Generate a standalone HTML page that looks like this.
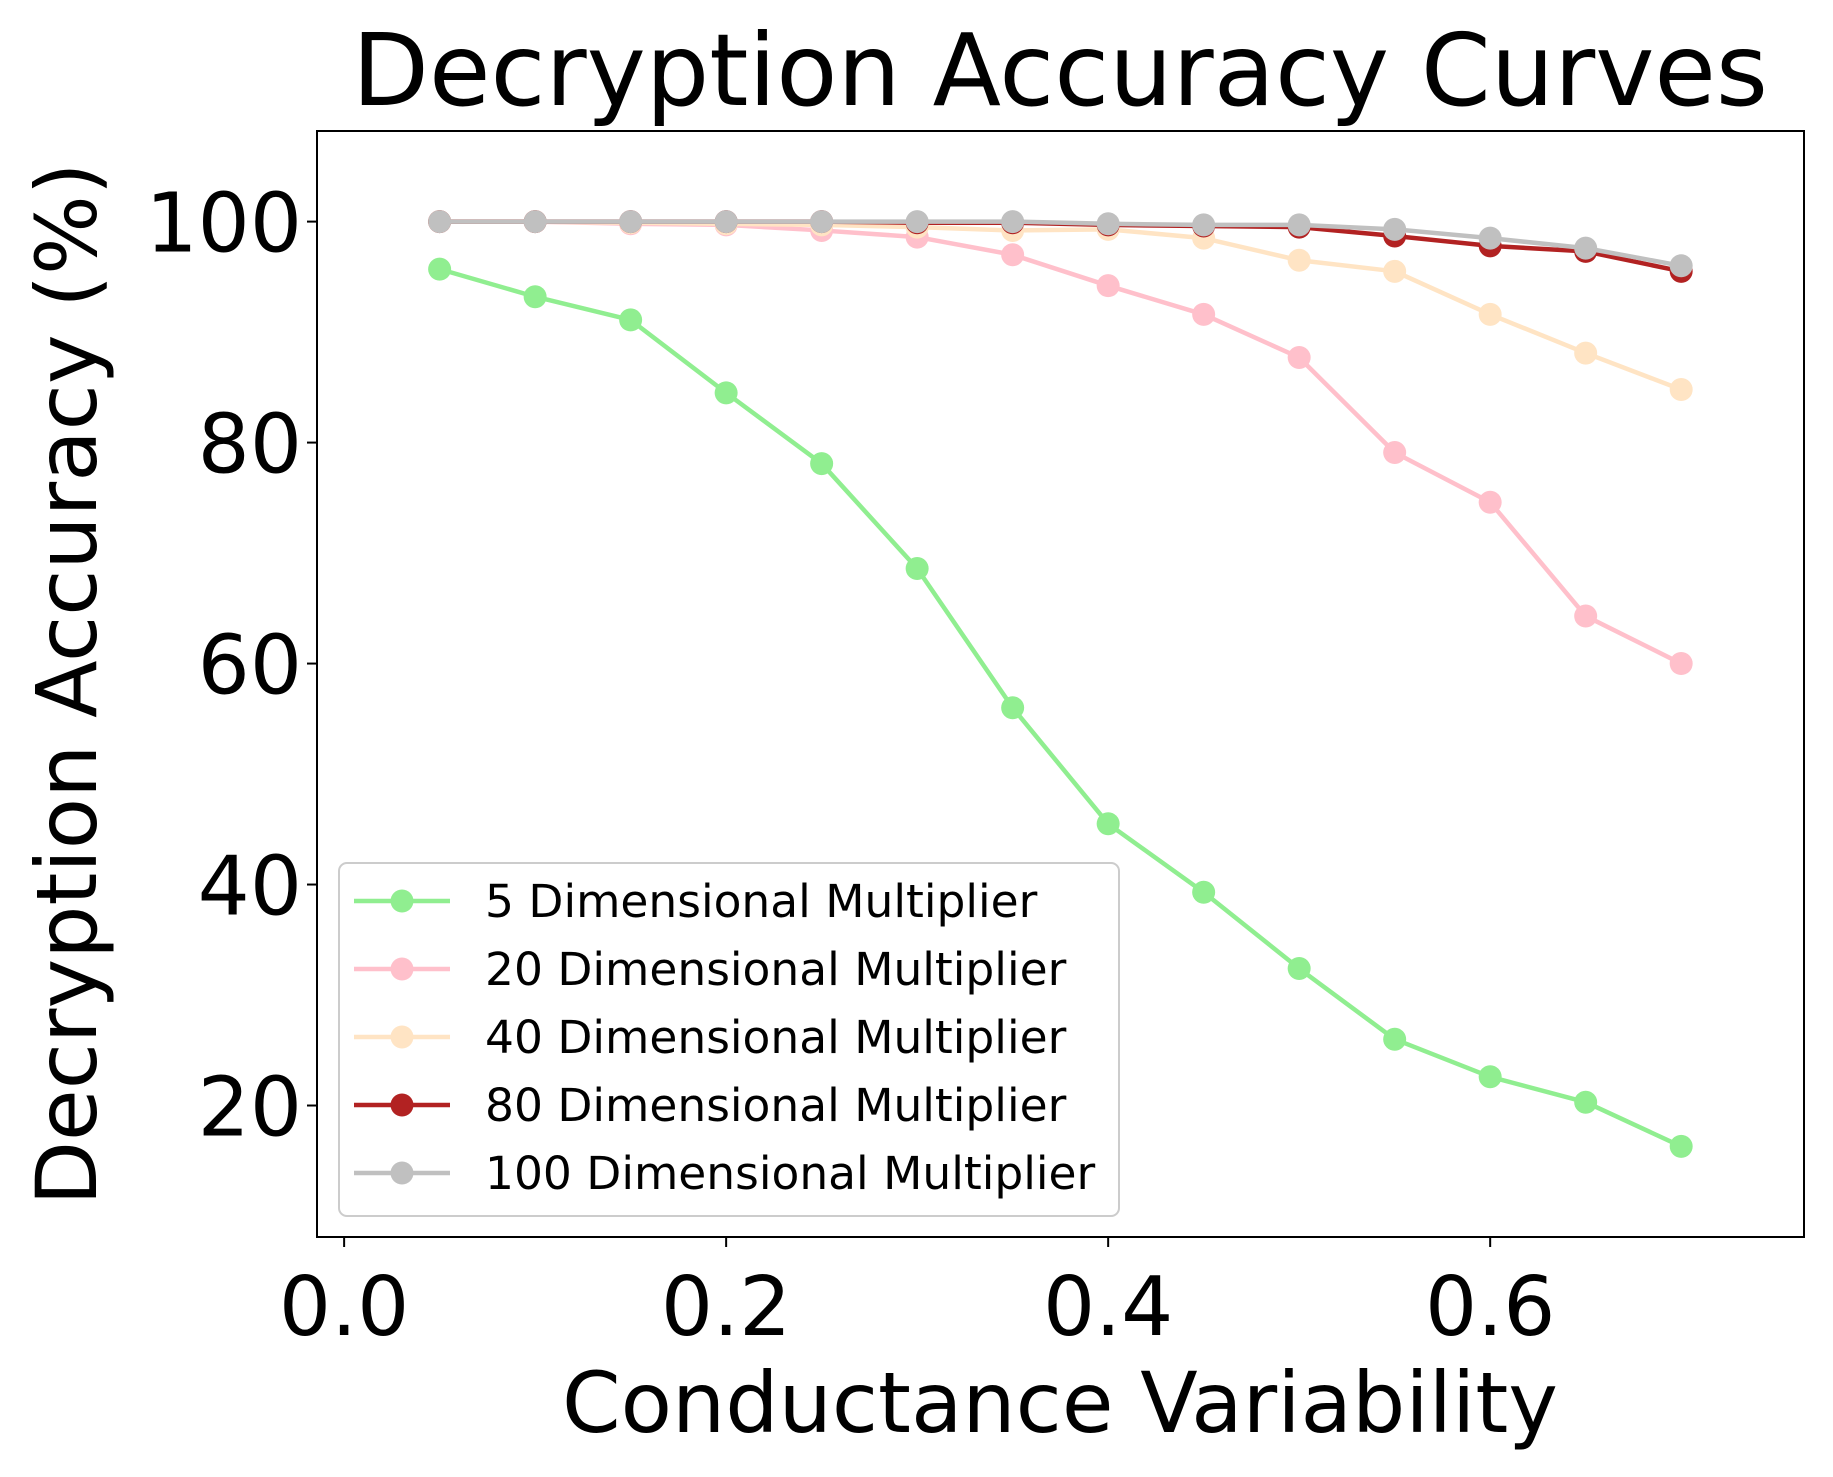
<!DOCTYPE html>
<html><head><meta charset="utf-8"><style>body{margin:0;background:#fff}svg{display:block}text{font-family:"DejaVu Sans","Liberation Sans",sans-serif;fill:#000}</style></head>
<body>
<svg id="chart" width="1833" height="1477" viewBox="0 0 1833 1477" xmlns="http://www.w3.org/2000/svg">
<rect width="1833" height="1477" fill="#fff"/>
<text x="1060" y="105" font-size="100" text-anchor="middle">Decryption Accuracy Curves</text>
<g id="plot"></g>
<text x="1060" y="1432" font-size="84" text-anchor="middle">Conductance Variability</text>
<text transform="translate(96,684) rotate(-90)" font-size="84" text-anchor="middle">Decryption Accuracy (%)</text>
</svg>
<script>
const xValues=[0.05,0.1,0.15,0.2,0.25,0.3,0.35,0.4,0.45,0.5,0.55,0.6,0.65,0.7];
const series5=[95.7,93.2,91.1,84.5,78.1,68.6,56.0,45.5,39.3,32.4,26.0,22.6,20.3,16.3];
const series20=[100,100,99.8,99.7,99.2,98.6,97.0,94.2,91.6,87.7,79.1,74.6,64.3,60.0];
const series40=[100,100,99.9,99.8,99.7,99.5,99.2,99.3,98.5,96.5,95.5,91.6,88.1,84.8];
const series80=[100,100,100,100,100,99.9,99.9,99.7,99.6,99.5,98.7,97.8,97.3,95.5];
const series100=[100,100,100,100,100,100,100,99.8,99.7,99.7,99.3,98.5,97.6,96.0];
const seriesNames=["5 Dimensional Multiplier","20 Dimensional Multiplier","40 Dimensional Multiplier","80 Dimensional Multiplier","100 Dimensional Multiplier"];
const xTicks=[0.0,0.2,0.4,0.6];
const xTickLabels=["0.0","0.2","0.4","0.6"];
const yTicks=[20,40,60,80,100];
const yTickLabels=["20","40","60","80","100"];

const NS="http://www.w3.org/2000/svg";
const L=317,R=1804,T=131,B=1237;
const xMin=-0.0142,xMax=0.7643,yMin=8.1,yMax=108.2;
const sx=v=>L+(v-xMin)/(xMax-xMin)*(R-L);
const sy=v=>B-(v-yMin)/(yMax-yMin)*(B-T);
const g=document.getElementById('plot');
function mk(tag,attrs,parent){const e=document.createElementNS(NS,tag);for(const k in attrs)e.setAttribute(k,attrs[k]);(parent||g).appendChild(e);return e;}
const colors=["#90ee90","#ffc0cb","#ffe4c4","#b22222","#c0c0c0"];
const all=[series5,series20,series40,series80,series100];
all.forEach((s,i)=>{
  const grp=mk('g',{});
  
  
  const pts=s.map((v,j)=>sx(xValues[j])+','+sy(v)).join(' ');
  const pl=mk('polyline',{points:pts,fill:'none',stroke:colors[i],'stroke-width':4.5,'stroke-linejoin':'round'},grp);
  
  
  s.forEach((v,j)=>{const c=mk('circle',{cx:sx(xValues[j]),cy:sy(v),r:11.5,fill:colors[i]},grp);
    
    });
});
const frame=mk('rect',{x:L,y:T,width:R-L,height:B-T,fill:'none',stroke:'#000','stroke-width':2});


xTicks.forEach((v,i)=>{
  const t=mk('line',{x1:sx(v),x2:sx(v),y1:B,y2:B+10,stroke:'#000','stroke-width':2});
  
  
  const tx=mk('text',{x:sx(v),y:1335,'font-size':82,'text-anchor':'middle'});
  tx.textContent=xTickLabels[i];
  
  
});
yTicks.forEach((v,i)=>{
  const t=mk('line',{x1:L-10,x2:L,y1:sy(v),y2:sy(v),stroke:'#000','stroke-width':2});
  
  
  const tx=mk('text',{x:L-15,y:sy(v)+30,'font-size':82,'text-anchor':'end'});
  tx.textContent=yTickLabels[i];
  
  
});
const lg=mk('g',{});


mk('rect',{x:339,y:863,width:780,height:353,rx:8,fill:'#fff','fill-opacity':0.8,stroke:'#cccccc','stroke-width':2},lg);
seriesNames.forEach((n,i)=>{
  const y=901+i*68;
  const e=mk('g',{},lg);
  
  
  mk('line',{x1:354,x2:450,y1:y,y2:y,stroke:colors[i],'stroke-width':4.5},e);
  mk('circle',{cx:402,cy:y,r:11.5,fill:colors[i]},e);
  const t=mk('text',{x:485,y:y+16,'font-size':45.5},e);
  t.textContent=n;
});
</script>
</body></html>
